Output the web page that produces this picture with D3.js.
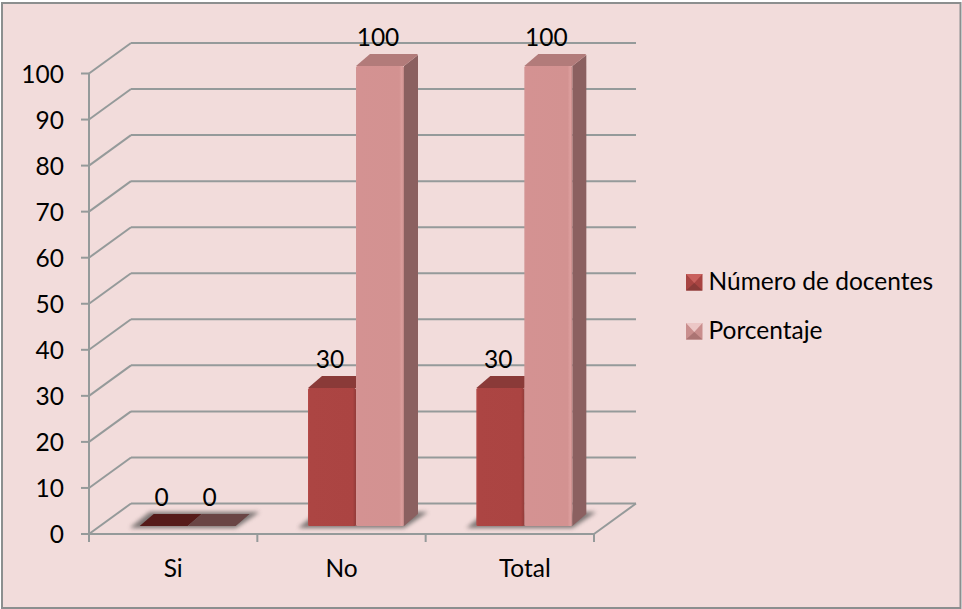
<!DOCTYPE html>
<html><head><meta charset="utf-8">
<script src="https://cdn.jsdelivr.net/npm/d3@7"></script>
<style>html,body{margin:0;padding:0;background:#fff}svg{display:block}text{font-family:Lato,sans-serif;fill:#000}</style>
</head><body><script>
const categories=["Si","No","Total"];
const seriesNames=["Número de docentes","Porcentaje"];
const docentes=[0,30,30];
const porcentaje=[0,100,100];
const yTicks=[0,10,20,30,40,50,60,70,80,90,100];

const W=962,H=609,FS=24.5;
const svg=d3.select("body").append("svg").attr("width",W).attr("height",H);
const defs=svg.append("defs");
const f=defs.append("filter").attr("id","sh").attr("x","-30%").attr("y","-100%").attr("width","160%").attr("height","300%");
f.append("feGaussianBlur").attr("stdDeviation",2);
function lg(id,stops){const g=defs.append("linearGradient").attr("id",id).attr("x1",0).attr("y1",0).attr("x2",1).attr("y2",0);
 stops.forEach(s=>g.append("stop").attr("offset",s[0]).attr("stop-color",s[1]));}
lg("fr0",[[0,"#b64c4a"],[.04,"#ac4543"],[.93,"#ab4442"],[1,"#923b39"]]);
lg("fr1",[[0,"#d39594"],[.04,"#d49292"],[.9,"#d39291"],[.96,"#dd9f9e"],[1,"#c08584"]]);

svg.append("rect").attr("x",2).attr("y",3).attr("width",958.5).attr("height",605).attr("fill","#f2dcdb").attr("stroke","#8c8f8f").attr("stroke-width",2);

const x=d3.scaleBand().domain(categories).range([89,594]);
const y=d3.scaleLinear().domain([0,100]).range([534,73.5]);
const yb=d3.scaleLinear().domain([0,100]).range([526,66]);
const dx=42,dy=-30.5;
const grid="#959a9a";
const g=svg.append("g");
const ln=(x1,y1,x2,y2)=>g.append("line").attr("x1",x1).attr("y1",y1).attr("x2",x2).attr("y2",y2).attr("stroke",grid).attr("stroke-width",2);

yTicks.forEach(t=>{
 const yy=y(t);
 ln(89,yy,89+dx,yy+dy);
 ln(89+dx,yy+dy,594+dx,yy+dy);
 ln(81,yy,89,yy);
 g.append("text").attr("x",64).attr("y",yy+9).attr("text-anchor","end").attr("font-size",FS).text(t);
});
ln(89,73.5,89,542);
ln(89,534,594,534);
ln(594,534,594+dx,534+dy);
[...categories.map(c=>x(c)),594].forEach(v=>ln(v,534,v,542));
categories.forEach((c,i)=>g.append("text").attr("x",x(c)+x.bandwidth()/2+(i===2?15:0)).attr("y",577).attr("text-anchor","middle").attr("font-size",FS).text(c));

const bw=48,ddx=14,ddy=-12,shift=14.5;
const off=[-bw,0];
const sides=[["#8a3a38","#7c3332"],["#b27b7a","#8b6060"]];
const poly=(pts,fill,par)=>(par||g).append("polygon").attr("points",pts.map(p=>p.join(",")).join(" ")).attr("fill",fill);

const data=[docentes,porcentaje];
categories.forEach(c=>{
 const cx=x(c)+x.bandwidth()/2+shift,b=yb(0);
 poly([[cx-bw-10,b+2],[cx+bw,b+2],[cx+bw+ddx+10,b+ddy-2],[cx-bw+ddx-4,b+ddy-2]],"#6f6a69").attr("filter","url(#sh)").attr("opacity",.9);
});
categories.forEach((c,i)=>{
 const cx=x(c)+x.bandwidth()/2+shift;
 [0,1].forEach(s=>{
  const v=data[s][i],x0=cx+off[s],x1=x0+bw,b=yb(0),t=yb(v);
  if(v===0){
   poly([[x0,b],[x1,b],[x1+ddx,b+ddy],[x0+ddx,b+ddy]],s?"#6a4545":"#561b1a");
   return;
  }
  poly([[x1,t],[x1+ddx,t+ddy+1],[x1+ddx,b+ddy],[x1,b]],sides[s][1]);
  poly([[x0,t],[x0+ddx,t+ddy],[x1+ddx-1,t+ddy],[x1+ddx,t+ddy+1],[x1,t]],sides[s][0]);
  g.append("rect").attr("x",x0).attr("y",t).attr("width",bw).attr("height",b-t).attr("rx",1.5).attr("fill",`url(#fr${s})`);
 });
});
categories.forEach((c,i)=>{
 [0,1].forEach(s=>{
  const cx=x(c)+x.bandwidth()/2+shift,v=data[s][i];
  g.append("text").attr("x",cx+off[s]+bw/2-2).attr("y",yb(v)-20).attr("text-anchor","middle").attr("font-size",FS).text(v);
 });
});

const lc=[["#c9605d","#8a3a38","#a84442"],["#ecc7c6","#ab7473","#c98e8d"]];
seriesNames.forEach((n,i)=>{
 const sz=16.5,lgG=svg.append("g").attr("transform",`translate(686,${274+i*49})`);
 lgG.append("rect").attr("width",sz).attr("height",sz).attr("fill",lc[i][2]);
 poly([[0,0],[sz,0],[sz/2,sz*.55]],lc[i][0],lgG);
 poly([[0,sz],[sz,sz],[sz/2,sz*.55]],lc[i][1],lgG);
 lgG.append("text").attr("x",22.5).attr("y",16).attr("font-size",FS).text(n);
});
</script></body></html>
